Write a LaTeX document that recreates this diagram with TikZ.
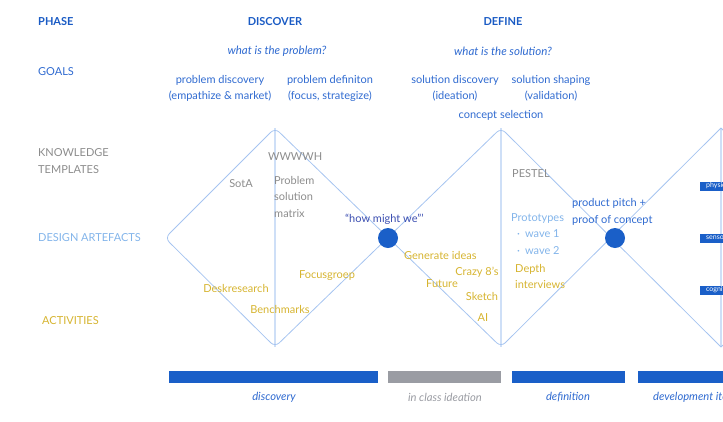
\documentclass[tikz,border=0pt]{standalone}
\usepackage{fontspec}
\setmainfont{Lato}
\definecolor{phaseblue}{HTML}{1A5BC4}
\definecolor{goalblue}{HTML}{2F6AD0}
\definecolor{tplgray}{HTML}{8C8C8C}
\definecolor{artblue}{HTML}{82B4EA}
\definecolor{actgold}{HTML}{D6B430}
\definecolor{lineblue}{HTML}{A6C4F0}
\definecolor{dotblue}{HTML}{1A5FC8}
\definecolor{bargray}{HTML}{9A9CA3}
\definecolor{hmwblue}{HTML}{3A4DB0}
\tikzset{
  base/.style={inner sep=0pt, font=\fontsize{11}{16.5}\selectfont},
  phasehead/.style={base, font=\bfseries\fontsize{11}{13}\selectfont, text=phaseblue},
  rowlabel/.style={base, anchor=west, align=left},
  question/.style={base, font=\itshape\fontsize{11.5}{13}\selectfont, text=goalblue},
  goal/.style={base, text=goalblue, align=center},
  template/.style={base, text=tplgray},
  artefact/.style={base, text=artblue},
  activity/.style={base, text=actgold},
  diamondline/.style={draw=lineblue, line width=0.8pt, rounded corners=6pt},
  axisline/.style={draw=lineblue, line width=1.6pt, opacity=0.55},
  milestone/.style={circle, fill=dotblue, minimum size=20pt, inner sep=0pt},
  bar/.style={fill=dotblue},
  barlabel/.style={base, font=\itshape\fontsize{11.2}{13}\selectfont, text=goalblue},
  tag/.style={fill=dotblue, text=white, font=\fontsize{7}{7}\selectfont,
    minimum height=9pt, inner xsep=6pt, inner ysep=0pt, anchor=west}
}
\begin{document}
\begin{tikzpicture}[x=1pt, y=-1pt]
\useasboundingbox (0,0) rectangle (723,421);
\clip (0,0) rectangle (723,421);

% double-diamond outline
\coordinate (d1l) at (165,238);
\coordinate (d1t) at (275,128);
\coordinate (d1b) at (275,347);
\coordinate (d2t) at (501,128);
\coordinate (d2b) at (501,347);
\coordinate (d3t) at (721,128);
\coordinate (d3b) at (721,347);
\path[diamondline] (d3t) -- (d2b) -- (d1t) -- (d1l) -- (d1b) -- (d2t) -- (d3b);
\path[diamondline] (d3t) -- (760,166);
\path[diamondline] (d3b) -- (760,309);
\path[axisline] (d1t) -- (d1b);
\path[axisline] (d2t) -- (d2b);
\path[axisline] (d3t) -- (d3b);

% milestones where the diamonds meet
\node[milestone] (m1) at (388,238) {};
\node[milestone] (m2) at (615,238) {};

% header row
\node[phasehead, anchor=west] (phase) at (38,22) {PHASE};
\node[phasehead] (discover) at (275,22) {DISCOVER};
\node[phasehead] (define) at (503,22) {DEFINE};
\node[question] (q1) at (277,51) {what is the problem?};
\node[question] (q2) at (503,51) {what is the solution?};

% row labels
\node[rowlabel, text=goalblue] (goals) at (38,72) {GOALS};
\node[rowlabel, text=tplgray] (templates) at (38,161) {KNOWLEDGE\\TEMPLATES};
\node[rowlabel, text=artblue] (artefacts) at (38,238) {DESIGN ARTEFACTS};
\node[rowlabel, text=actgold] (activities) at (42,321) {ACTIVITIES};

% goals
\node[goal] (g1) at (220,88.5) {problem discovery\\(empathize \& market)};
\node[goal] (g2) at (330,88.5) {problem definiton\\(focus, strategize)};
\node[goal] (g3) at (455,88.5) {solution discovery\\(ideation)};
\node[goal] (g4) at (551,88.5) {solution shaping\\(validation)};
\node[goal] (g5) at (501,115) {concept selection};

% knowledge templates
\node[template, anchor=west] (wwwwh) at (268,157) {WWWWH};
\node[template] (sota) at (241,184) {SotA};
\node[template, anchor=north west, align=left] (psm) at (274,176) {Problem\\solution\\matrix};
\node[template, anchor=west] (pestel) at (512,174) {PESTEL};

% design artefacts
\node[base, text=hmwblue, anchor=west] (hmw) at (345,219) {“how might we”’};
\node[artefact, anchor=west] (proto) at (511,218) {Prototypes};
\node[artefact, anchor=west] (wave1) at (517,234) {·\hspace{5pt}wave 1};
\node[artefact, anchor=west] (wave2) at (517,251) {·\hspace{5pt}wave 2};
\node[base, text=goalblue, anchor=west, align=left] (pitch) at (572,212) {product pitch +\\proof of concept};

% activities
\node[activity] (desk) at (236,288) {Deskresearch};
\node[activity] (bench) at (280,309) {Benchmarks};
\node[activity] (focus) at (327,276) {Focusgroep};
\node[activity, anchor=west] (gen) at (404,255) {Generate ideas};
\node[activity] (crazy) at (477,272) {Crazy 8’s};
\node[activity] (future) at (442,284) {Future};
\node[activity] (sketch) at (482,296) {Sketch};
\node[activity] (ai) at (483,318) {AI};
\node[activity, anchor=west, align=left] (depth) at (515,276.5) {Depth\\interviews};

% tags on the third diamond, running on past the right edge
\node[tag] (tphys) at (700,186) {physical};
\node[tag] (tsens) at (700,238) {sensory};
\node[tag] (tcogn) at (700,290) {cognitive};

% timeline bars
\fill[bar] (169,371) rectangle (378,383);
\fill[bargray] (388,371) rectangle (501,383);
\fill[bar] (512,371) rectangle (625,383);
\fill[bar] (638,371) rectangle (740,383);
\node[barlabel] (l1) at (274,397) {discovery};
\node[barlabel, text=bargray] (l2) at (445,397) {in class ideation};
\node[barlabel] (l3) at (568,397) {definition};
\node[barlabel, anchor=west] (l4) at (653,397) {development iterations};
\end{tikzpicture}
\end{document}
